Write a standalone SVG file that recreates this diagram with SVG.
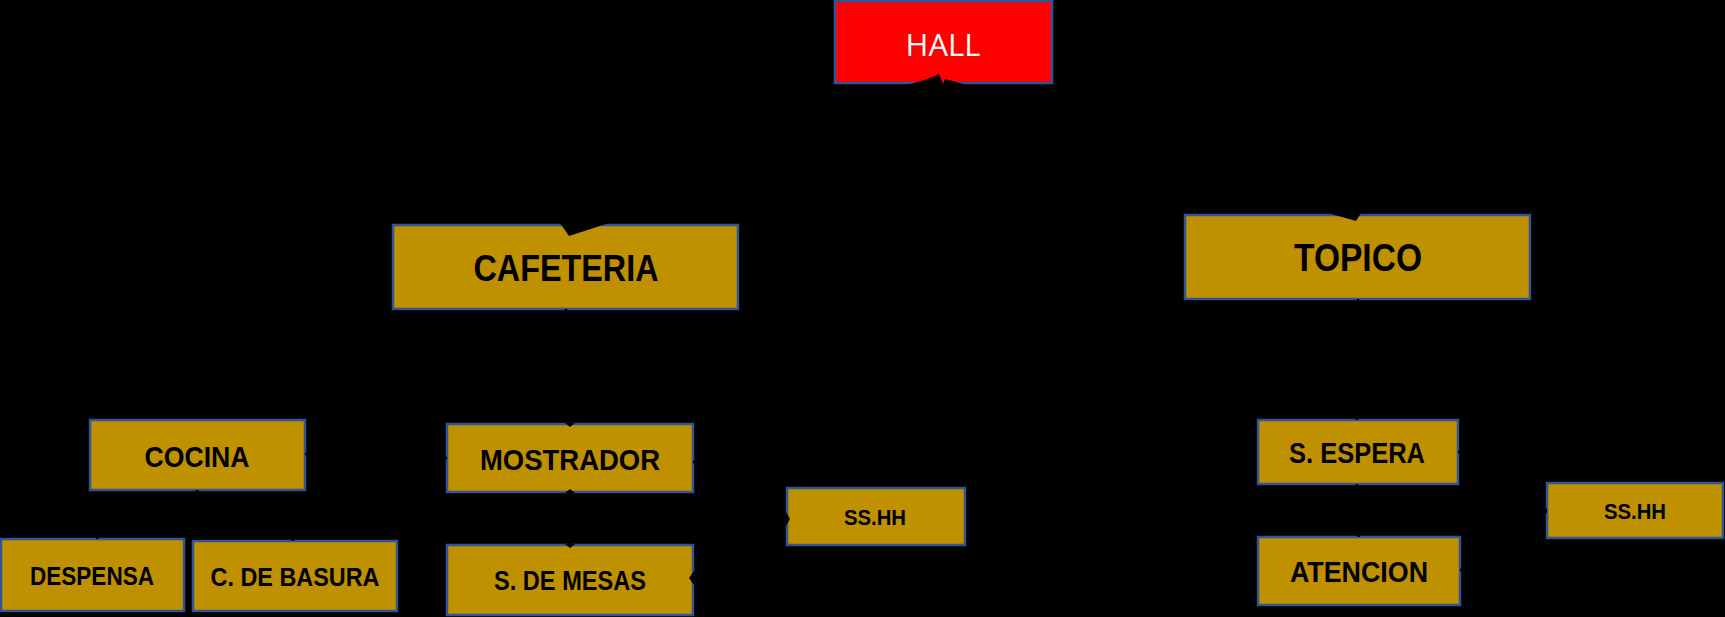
<svg xmlns="http://www.w3.org/2000/svg" width="1725" height="617" viewBox="0 0 1725 617">
<defs>
<style>
.box{fill:#BF9000;stroke:#2F5597;stroke-width:2.5}
.hall{fill:#FF0000;stroke:#2F5597;stroke-width:2.5}
.t{font-family:"Liberation Sans",Arial,sans-serif;font-weight:bold;fill:#000;text-anchor:middle;dominant-baseline:central}
.th{font-family:"Open Sans","Liberation Sans",sans-serif;fill:#fff;text-anchor:middle;dominant-baseline:central;font-size:31px}
.c{fill:none;stroke:#000;stroke-width:2.5}
.n{fill:#000}
</style>
</defs>
<rect width="1725" height="617" fill="#000"/>
<g id="node-hall"><rect class="hall" x="835" y="1" width="217" height="82"/><text class="th" x="943" y="44">HALL</text></g>
<g id="node-cafeteria"><rect class="box" x="393" y="225" width="345" height="84"/><text class="t" x="566" y="268" font-size="37" textLength="185" lengthAdjust="spacingAndGlyphs">CAFETERIA</text></g>
<g id="node-topico"><rect class="box" x="1185" y="215" width="345" height="84"/><text class="t" x="1358" y="258" font-size="38" textLength="128" lengthAdjust="spacingAndGlyphs">TOPICO</text></g>
<g id="node-cocina"><rect class="box" x="90" y="420" width="215" height="70"/><text class="t" x="197" y="456" font-size="30" textLength="105" lengthAdjust="spacingAndGlyphs">COCINA</text></g>
<g id="node-despensa"><rect class="box" x="1" y="539" width="183" height="72"/><text class="t" x="92" y="576" font-size="26" textLength="124" lengthAdjust="spacingAndGlyphs">DESPENSA</text></g>
<g id="node-basura"><rect class="box" x="193" y="541" width="204" height="70"/><text class="t" x="295" y="577" font-size="26" textLength="169" lengthAdjust="spacingAndGlyphs">C. DE BASURA</text></g>
<g id="node-mostrador"><rect class="box" x="447" y="424" width="246" height="68"/><text class="t" x="570" y="459" font-size="30" textLength="180" lengthAdjust="spacingAndGlyphs">MOSTRADOR</text></g>
<g id="node-mesas"><rect class="box" x="447" y="545" width="246" height="70"/><text class="t" x="570" y="581" font-size="27" textLength="152" lengthAdjust="spacingAndGlyphs">S. DE MESAS</text></g>
<g id="node-sshh1"><rect class="box" x="787" y="488" width="178" height="57"/><text class="t" x="875" y="517" font-size="22" textLength="62" lengthAdjust="spacingAndGlyphs">SS.HH</text></g>
<g id="node-espera"><rect class="box" x="1258" y="420" width="200" height="64"/><text class="t" x="1357" y="453" font-size="29" textLength="136" lengthAdjust="spacingAndGlyphs">S. ESPERA</text></g>
<g id="node-atencion"><rect class="box" x="1258" y="537" width="202" height="68"/><text class="t" x="1359" y="572" font-size="29" textLength="138" lengthAdjust="spacingAndGlyphs">ATENCION</text></g>
<g id="node-sshh2"><rect class="box" x="1547" y="483" width="176" height="55"/><text class="t" x="1635" y="511" font-size="22" textLength="62" lengthAdjust="spacingAndGlyphs">SS.HH</text></g>
<g id="connectors">
<path class="c" d="M940,84 C940,150 568,150 568,225"/>
<path class="c" d="M946,84 C946,150 1355,150 1355,215"/>
<path class="n" d="M906,85 Q925,81 939,74 L943,84 L945,79 Q956,82 967,85 Z"/>
<path class="n" d="M560,223 L569,236 L609,223 Z"/>
<path class="n" d="M1328,213 L1356,221 L1361,213 Z"/>
<path class="c" d="M566,309 L570,424"/>
<path class="c" d="M570,492 L570,545"/>
<path class="n" d="M565,423 L570,427 L575,423 Z"/>
<path class="n" d="M565,493 L570,489 L575,493 Z"/>
<path class="n" d="M565,544 L570,548 L575,544 Z"/>
<path class="c" d="M305,454 C370,454 380,458 447,458"/>
<path class="c" d="M693,462 C745,462 735,518 787,518"/>
<path class="c" d="M693,578 C745,578 735,520 787,520"/>
<path class="n" d="M786,512 L790,519 L786,526 Z"/>
<path class="n" d="M694,571 L689,578 L694,585 Z"/>
<path class="c" d="M197,490 C197,520 97,510 97,539"/>
<path class="c" d="M197,490 C197,520 293,510 293,541"/>
<path class="c" d="M1358,299 L1357,420"/>
<path class="c" d="M1357,484 L1359,537"/>
<path class="c" d="M1458,452 C1510,452 1495,510 1547,510"/>
<path class="c" d="M1460,570 C1510,570 1495,512 1547,512"/>
</g>
</svg>
